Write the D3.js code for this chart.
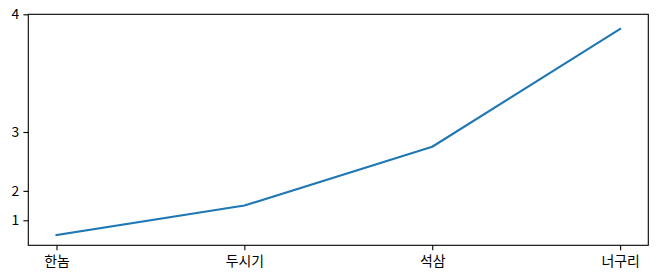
<!DOCTYPE html>
<html>
<head>
<meta charset="utf-8">
<script src="https://cdn.jsdelivr.net/npm/d3@7"></script>
<style>
  html, body { margin: 0; padding: 0; background: #fff; }
  svg { display: block; }
  .tick text { font-family: "Noto Sans CJK KR", "Noto Sans", sans-serif; font-size: 13.9px; fill: #000; }
</style>
</head>
<body>
<svg id="chart" width="658" height="278"></svg>
<script>
const categories = ["한놈", "두시기", "석삼", "너구리"];
const values = [0, 1.585, 2.807, 3.907];
const yTickValues = [1, 2, 3, 4];

const W = 658, H = 278;
const margin = { left: 28.3, top: 14.3, right: 658 - 648.3, bottom: 278 - 245.3 };
const x0 = margin.left, x1 = W - margin.right, y0 = H - margin.bottom, y1 = margin.top;

const svg = d3.select("#chart");

// x: point positions with 5% margins (matplotlib style)
const x = d3.scaleLinear().domain([-0.15, categories.length - 1 + 0.15]).range([x0, x1]);

// y: exponential (base 2) scale, linear in 2^v space
const yLin = d3.scaleLinear().domain([0.3, 16]).range([y0, y1]);
const fwd = v => Math.pow(2, v);
const y = v => yLin(fwd(v));

// line
const line = d3.line().x((d, i) => x(i)).y(d => y(d));
svg.append("path")
  .datum(values)
  .attr("fill", "none")
  .attr("stroke", "#1f77b4")
  .attr("stroke-width", 2.08)
  .attr("stroke-linejoin", "round")
  .attr("stroke-linecap", "square")
  .attr("d", line);

// frame
svg.append("rect")
  .attr("x", x0).attr("y", y1)
  .attr("width", x1 - x0).attr("height", y0 - y1)
  .attr("fill", "none").attr("stroke", "#000").attr("stroke-width", 1.1);

// x axis
const xAxis = d3.axisBottom(x)
  .tickValues(d3.range(categories.length))
  .tickFormat(i => categories[i])
  .tickSizeInner(4.9).tickSizeOuter(0).tickPadding(6);
const gx = svg.append("g").attr("transform", `translate(0,${y0})`).call(xAxis);
gx.select(".domain").remove();
gx.selectAll(".tick line").attr("stroke", "#000").attr("stroke-width", 1.1);

// y axis (ticks in transformed space, labeled with original values)
const yAxis = d3.axisLeft(yLin)
  .tickValues(yTickValues.map(fwd))
  .tickFormat(d => String(Math.round(Math.log2(d))))
  .tickSizeInner(4.9).tickSizeOuter(0).tickPadding(4.3);
const gy = svg.append("g").attr("transform", `translate(${x0},0)`).call(yAxis);
gy.select(".domain").remove();
gy.selectAll(".tick line").attr("stroke", "#000").attr("stroke-width", 1.1);
</script>
</body>
</html>
